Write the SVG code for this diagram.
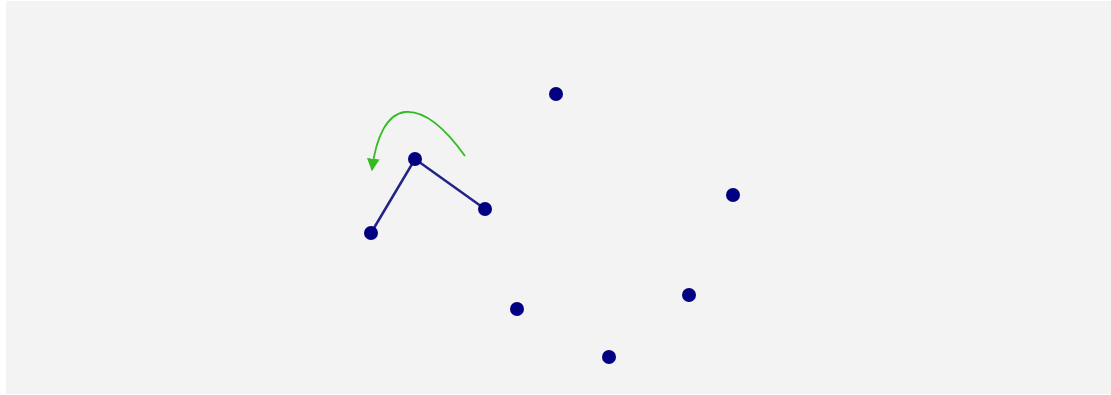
<svg xmlns="http://www.w3.org/2000/svg" width="1111" height="395" viewBox="0 0 1111 395">
<defs>
<style>
.pt{fill:#000080}
.edge{stroke:#22228a;stroke-width:2.5;fill:none;stroke-linecap:round}
.rot{stroke:#33bb22;stroke-width:1.8;fill:none}
</style>
<marker id="ah" viewBox="0 0 10 10" refX="9" refY="5" markerWidth="7" markerHeight="7" orient="auto" markerUnits="strokeWidth">
<path d="M0,0 L10,5 L0,10 Z" fill="#33bb22"/>
</marker>
</defs>
<rect x="0" y="0" width="1111" height="395" fill="#ffffff"/>
<rect x="6" y="1" width="1105" height="393" fill="#f3f3f3"/>
<g id="connectors">
<path class="edge" d="M371,233 L415,159 L485,209"/>
<path class="rot" d="M465,156 C445,128 425,110 405,112 C388,114 376,135 372,170" marker-end="url(#ah)"/>
</g>
<g id="n1"><circle class="pt" cx="556" cy="94" r="7"/></g>
<g id="n2"><circle class="pt" cx="733" cy="195" r="7"/></g>
<g id="n3"><circle class="pt" cx="415" cy="159" r="7"/></g>
<g id="n4"><circle class="pt" cx="485" cy="209" r="7"/></g>
<g id="n5"><circle class="pt" cx="371" cy="233" r="7"/></g>
<g id="n6"><circle class="pt" cx="517" cy="309" r="7"/></g>
<g id="n7"><circle class="pt" cx="689" cy="295" r="7"/></g>
<g id="n8"><circle class="pt" cx="609" cy="357" r="7"/></g>
</svg>
